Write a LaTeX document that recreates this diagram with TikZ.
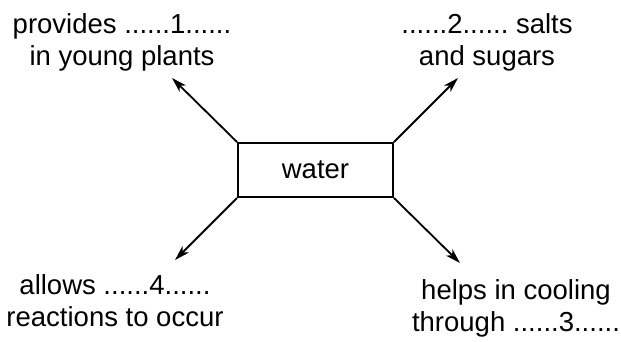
\documentclass[tikz,border=0pt]{standalone}
\usepackage{fontspec}
\setmainfont{Liberation Sans}
\usetikzlibrary{arrows.meta}
\frenchspacing
\tikzstyle{box}=[rectangle,draw,line width=2pt,minimum width=155pt,minimum height=54pt,inner sep=0pt]
\tikzstyle{lbl}=[align=center,inner sep=0pt]
\tikzstyle{arr}=[-{Stealth[length=15pt,width=9pt,inset=4pt]},draw,line width=1.8pt]

\begin{document}
\begin{tikzpicture}[x=1pt,y=-1pt,font=\fontsize{27.5}{32}\selectfont]
      \useasboundingbox (0,0) rectangle (621,341);
      \node[box] (water) at (315.5,170) {water};
      \node[lbl] (L1) at (122,42) {provides ......1......\\in young plants};
      \node[lbl] (L2) at (487,42) {......2...... salts\\and sugars};
      \node[lbl] (L3) at (516,308) {helps in cooling\\through ......3......};
      \node[lbl] (L4) at (115,301) {allows ......4......\\reactions to occur};
      \coordinate (T1) at (172,78);
      \coordinate (T2) at (458,78);
      \coordinate (T3) at (460,263);
      \coordinate (T4) at (175,260);
      \draw[arr] (water.north west) -- (T1);
      \draw[arr] (water.north east) -- (T2);
      \draw[arr] (water.south east) -- (T3);
      \draw[arr] (water.south west) -- (T4);
  \end{tikzpicture}
\end{document}
